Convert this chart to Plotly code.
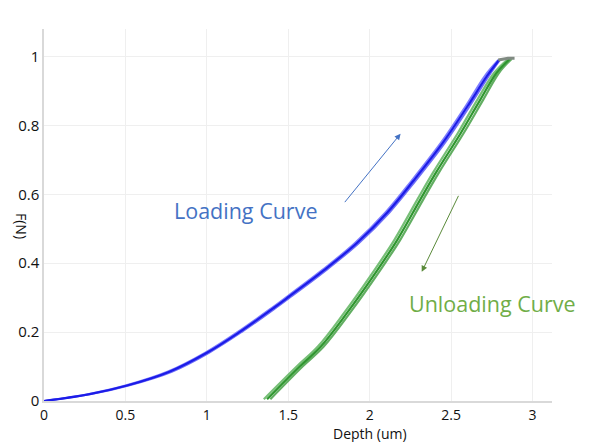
import plotly.graph_objects as go

# Loading curve runs (depth in um, force in N)
load_depth_a = [0, 0.28, 0.51, 0.77, 1.0, 1.2, 1.41, 1.51, 1.72, 1.92, 2.11, 2.27, 2.45, 2.60, 2.72, 2.795]
load_force_a = [0, 0.02, 0.045, 0.085, 0.14, 0.20, 0.27, 0.305, 0.38, 0.458, 0.548, 0.64, 0.75, 0.855, 0.943, 0.99]
load_depth_b = [0, 0.29, 0.52, 0.785, 1.013, 1.213, 1.423, 1.523, 1.733, 1.933, 2.123, 2.283, 2.463, 2.613, 2.731, 2.80]
load_force_b = [0, 0.02, 0.045, 0.085, 0.14, 0.20, 0.27, 0.305, 0.38, 0.458, 0.548, 0.64, 0.75, 0.855, 0.943, 0.99]
load_depth_c = [0, 0.27, 0.50, 0.758, 0.988, 1.188, 1.398, 1.498, 1.708, 1.908, 2.098, 2.258, 2.438, 2.588, 2.709, 2.79]
load_force_c = [0, 0.02, 0.045, 0.085, 0.14, 0.20, 0.27, 0.305, 0.38, 0.458, 0.548, 0.64, 0.75, 0.855, 0.945, 0.99]

# Unloading curve runs
unload_depth_a = [1.37, 1.57, 1.70, 1.86, 2.02, 2.17, 2.31, 2.41, 2.56, 2.68, 2.78, 2.86]
unload_force_a = [0.005, 0.10, 0.158, 0.255, 0.361, 0.468, 0.584, 0.665, 0.778, 0.875, 0.953, 0.993]
unload_depth_b = [1.39, 1.588, 1.718, 1.878, 2.038, 2.188, 2.328, 2.428, 2.578, 2.698, 2.795, 2.872]
unload_force_b = [0.005, 0.10, 0.158, 0.255, 0.361, 0.468, 0.584, 0.665, 0.778, 0.875, 0.953, 0.993]
unload_depth_c = [1.35, 1.552, 1.682, 1.842, 2.002, 2.152, 2.292, 2.392, 2.542, 2.662, 2.765, 2.85]
unload_force_c = [0.005, 0.10, 0.158, 0.255, 0.361, 0.468, 0.584, 0.665, 0.778, 0.875, 0.953, 0.993]

# Hold segment at peak load
hold_depth = [2.79, 2.85, 2.89]
hold_force = [0.99, 0.995, 0.995]

x_ticks = [0, 0.5, 1, 1.5, 2, 2.5, 3]
x_tick_labels = ["0", "0.5", "1", "1.5", "2", "2.5", "3"]
y_ticks = [0, 0.2, 0.4, 0.6, 0.8, 1]
y_tick_labels = ["0", "0.2", "0.4", "0.6", "0.8", "1"]

fig = go.Figure()

for d, f, c, w in [(load_depth_c, load_force_c, "rgba(105,105,255,0.85)", 2),
                   (load_depth_b, load_force_b, "rgba(85,85,245,0.85)", 2),
                   (load_depth_a, load_force_a, "#1c1ce8", 2.2)]:
    fig.add_trace(go.Scatter(x=d, y=f, mode="lines",
                             line=dict(color=c, width=w, shape="spline", smoothing=1.0),
                             showlegend=False, hoverinfo="skip"))

for d, f, c, w in [(unload_depth_c, unload_force_c, "rgba(95,180,95,0.85)", 2.2),
                   (unload_depth_b, unload_force_b, "rgba(70,160,70,0.85)", 2.2),
                   (unload_depth_a, unload_force_a, "#2f962f", 2.2)]:
    fig.add_trace(go.Scatter(x=d, y=f, mode="lines",
                             line=dict(color=c, width=w, shape="spline", smoothing=1.0),
                             showlegend=False, hoverinfo="skip"))

fig.add_trace(go.Scatter(x=hold_depth, y=hold_force, mode="lines",
                         line=dict(color="#808a82", width=3), showlegend=False, hoverinfo="skip"))

font_fam = "Open Sans, Noto Sans, sans-serif"

fig.update_layout(
    width=594, height=434,
    margin=dict(l=36, r=50, t=21, b=41, autoexpand=False),
    paper_bgcolor="white", plot_bgcolor="white",
    font=dict(family=font_fam, size=15, color="#111"),
    xaxis=dict(range=[0, 3.12], tickvals=x_ticks, ticktext=x_tick_labels,
               showgrid=True, gridcolor="#efefef", gridwidth=1,
               showline=True, linecolor="#d9d9d9", linewidth=1.5,
               zeroline=False, ticks="", tickfont=dict(size=14), automargin=False),
    yaxis=dict(range=[0, 1.08], tickvals=y_ticks, ticktext=y_tick_labels,
               showgrid=True, gridcolor="#efefef", gridwidth=1,
               showline=True, linecolor="#d9d9d9", linewidth=1.5,
               zeroline=False, ticks="", tickfont=dict(size=15), automargin=False),
    annotations=[
        dict(text="F(N)", xref="paper", yref="paper", x=-0.043, y=0.47, textangle=90,
             xanchor="center", yanchor="middle",
             showarrow=False, font=dict(size=14, color="#111")),
        dict(text="Depth (um)", xref="x", yref="paper", x=2.0, y=-0.087, yanchor="middle",
             showarrow=False, font=dict(size=14, color="#111")),
        dict(text="Loading Curve", xref="x", yref="y", x=1.235, y=0.552, showarrow=False,
             font=dict(size=21.5, color="#4472c4")),
        dict(text="Unloading Curve", xref="x", yref="y", x=2.755, y=0.282, showarrow=False,
             font=dict(size=21.5, color="#70ad47")),
        dict(x=2.19, y=0.776, ax=1.84, ay=0.573, xref="x", yref="y", axref="x", ayref="y",
             text="", showarrow=True, arrowhead=2, arrowsize=1.2, arrowwidth=1, arrowcolor="#4472c4"),
        dict(x=2.32, y=0.375, ax=2.55, ay=0.60, xref="x", yref="y", axref="x", ayref="y",
             text="", showarrow=True, arrowhead=2, arrowsize=1.2, arrowwidth=1, arrowcolor="#5a8a3a"),
    ],
)

fig.write_html("out.html")
